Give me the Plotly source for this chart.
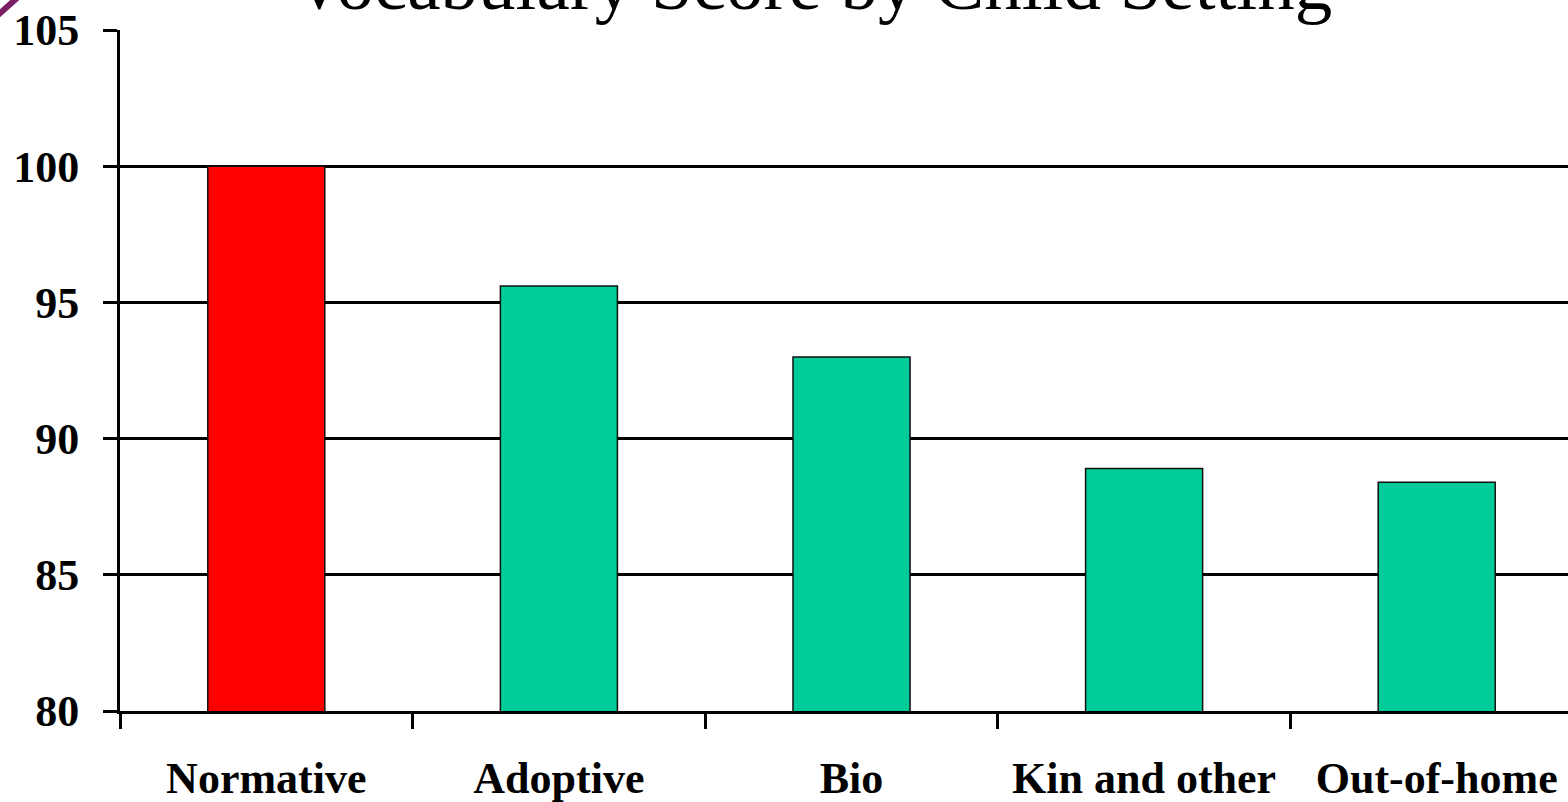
import plotly.graph_objects as go

# Mean vocabulary score for each child setting
settings = ["Normative", "Adoptive", "Bio", "Kin and other", "Out-of-home"]
scores = [100.0, 95.6, 93.0, 88.9, 88.4]
bar_colors = ["#FF0000", "#00CC99", "#00CC99", "#00CC99", "#00CC99"]

y_ticks = [80, 85, 90, 95, 100, 105]
title_text = "Vocabulary Score by Child Setting"

W, H = 1568, 802
M_L, M_R, M_T, M_B = 120, 0, 30, 91
plot_w = W - M_L - M_R
plot_h = H - M_T - M_B
cat_px = 292.6  # width of one category slot in pixels

serif = "Liberation Serif, Times New Roman, serif"

fig = go.Figure(
    go.Bar(
        x=settings,
        y=scores,
        width=0.4,
        marker=dict(color=bar_colors, line=dict(color="#111111", width=1.5)),
        hoverinfo="x+y",
    )
)

# small decorative stroke in the top-left corner
def px_to_paper(px, py):
    return (px - M_L) / plot_w, (H - M_B - py) / plot_h

x0, y0 = px_to_paper(-2, 15)
x1, y1 = px_to_paper(17, -2)

fig.update_layout(
    width=W,
    height=H,
    margin=dict(l=M_L, r=M_R, t=M_T, b=M_B, pad=0),
    paper_bgcolor="white",
    plot_bgcolor="white",
    showlegend=False,
    bargap=0.6,
    annotations=[
        dict(
            text=title_text,
            xref="paper",
            yref="paper",
            x=(812 - M_L) / plot_w,
            y=1.068,
            xanchor="center",
            yanchor="middle",
            showarrow=False,
            font=dict(family=serif, size=75, color="black"),
        )
    ],
    shapes=[
        dict(
            type="line",
            xref="paper",
            yref="paper",
            x0=x0,
            y0=y0,
            x1=x1,
            y1=y1,
            line=dict(color="#7a1f66", width=6),
            layer="below",
        )
    ],
)

fig.update_xaxes(
    type="category",
    range=[-0.5, -0.5 + plot_w / cat_px],
    tickson="boundaries",
    ticks="outside",
    ticklen=15,
    tickwidth=3,
    tickcolor="black",
    showline=True,
    linecolor="black",
    linewidth=3,
    showgrid=False,
    zeroline=False,
    ticklabelstandoff=26,
    tickfont=dict(family=serif, size=44, color="black", weight="bold"),
    fixedrange=True,
)

fig.update_yaxes(
    range=[80, 105],
    tickvals=y_ticks,
    ticktext=[str(v) for v in y_ticks],
    ticks="outside",
    ticklen=14,
    tickwidth=3,
    tickcolor="black",
    showline=True,
    linecolor="black",
    linewidth=3,
    showgrid=True,
    gridcolor="black",
    gridwidth=3,
    zeroline=False,
    ticklabelstandoff=15,
    tickfont=dict(family=serif, size=44, color="black", weight="bold"),
    fixedrange=True,
)

fig.write_html("out.html")
